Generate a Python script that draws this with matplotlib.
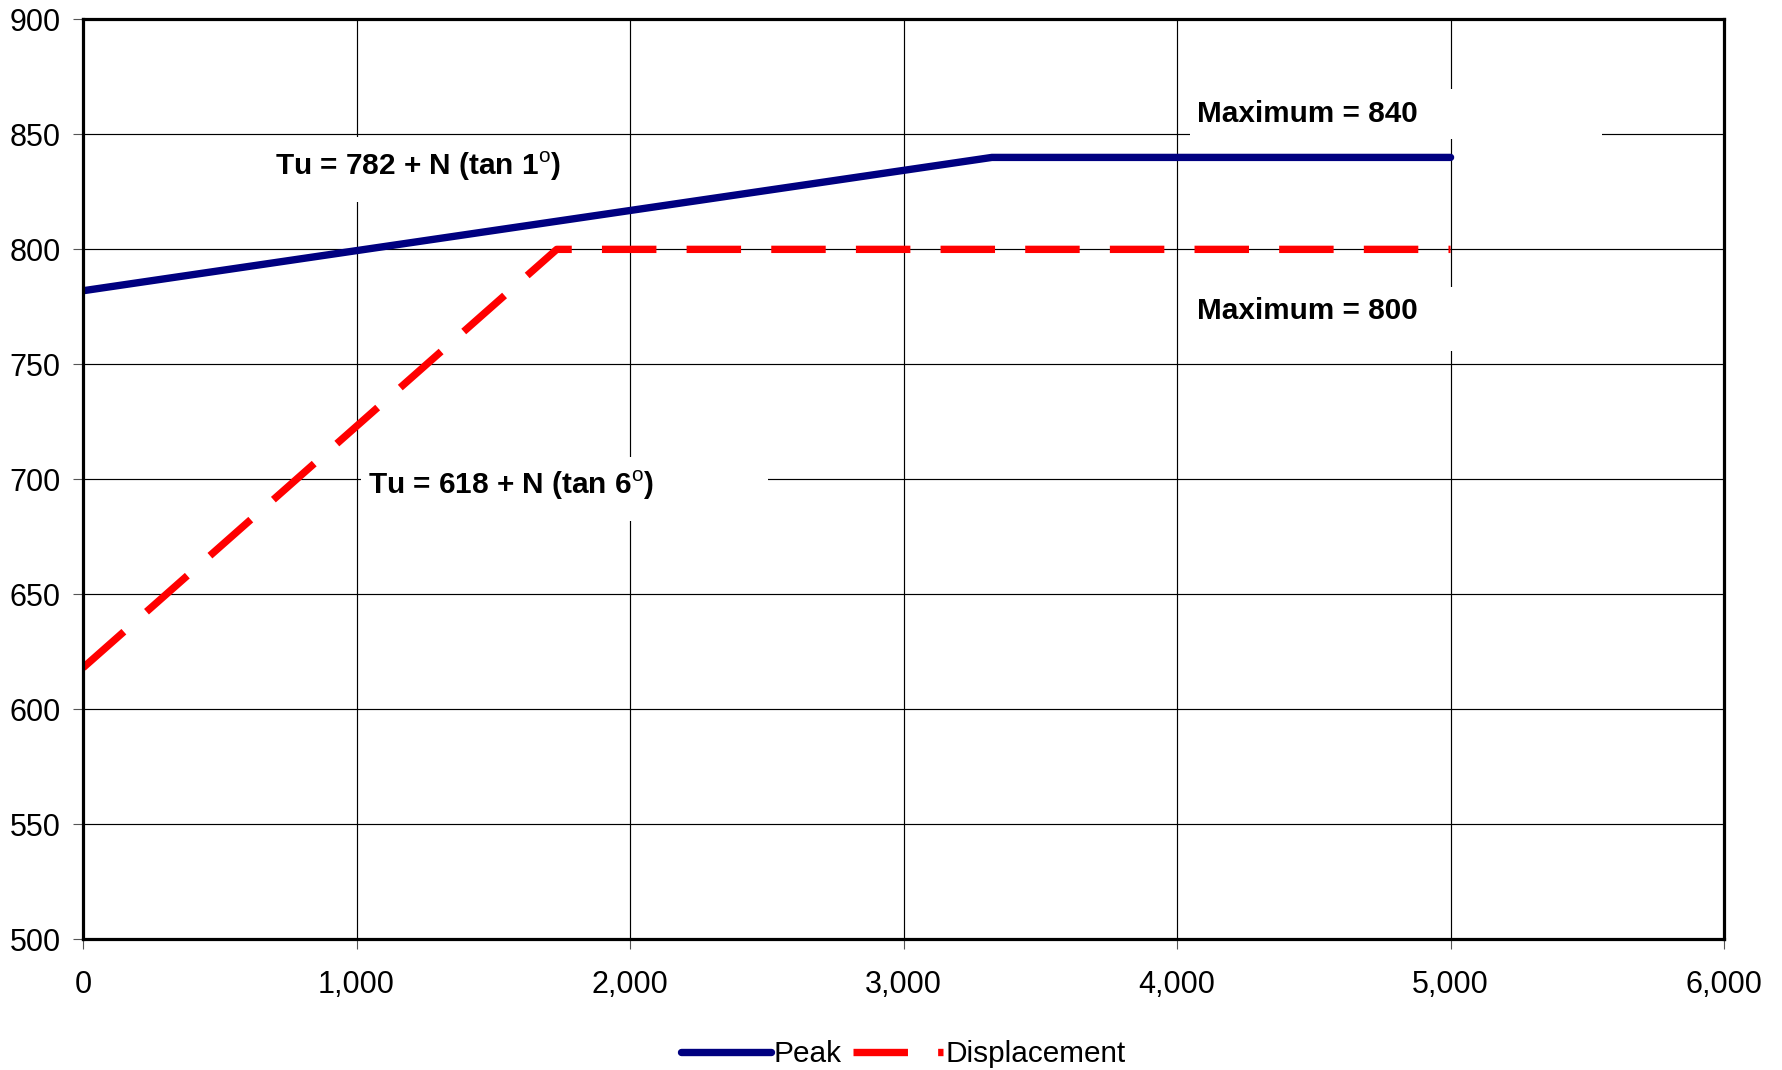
import matplotlib
matplotlib.use('Agg')
import matplotlib.pyplot as plt
import matplotlib.patches as mpatches
from matplotlib.ticker import FuncFormatter, MultipleLocator

plt.rcParams['font.family'] = ['Liberation Sans', 'DejaVu Sans']
plt.rcParams['mathtext.fontset'] = 'custom'
plt.rcParams['mathtext.rm'] = 'Liberation Sans'
plt.rcParams['mathtext.bf'] = 'Liberation Sans:bold'

# ── data ────────────────────────────────────────────────────────────────────
peak_x = [0, 3323, 5000]
peak_y = [782, 840, 840]
disp_x = [0, 1732, 5000]
disp_y = [618, 800, 800]

labels = ['Tu = 782 + N (tan 1$^{\\mathrm{o}}$)',
          'Tu = 618 + N (tan 6$^{\\mathrm{o}}$)',
          'Maximum = 840',
          'Maximum = 800']
label_pos = [(702, 832.4), (1042, 693.7), (4073, 855.6), (4073, 769.8)]
# white text boxes (x0, x1, y0, y1) that mask the gridlines
label_box = [(676, 1963, 820.7, 848.9), (1016, 2505, 682.0, 709.8),
             (4048, 5554, 848.0, 869.8), (4048, 5554, 755.9, 783.7)]

# ── figure ──────────────────────────────────────────────────────────────────
fig = plt.figure(figsize=(17.82, 10.70), dpi=100)
fig.patch.set_facecolor('white')
ax = fig.add_axes([0.0466, 0.1224, 0.9209, 0.8594])

ax.set_xlim(0, 6000)
ax.set_ylim(500, 900)
ax.xaxis.set_major_locator(MultipleLocator(1000))
ax.yaxis.set_major_locator(MultipleLocator(50))
ax.xaxis.set_major_formatter(FuncFormatter(lambda v, p: f'{int(v):,}'))

ax.set_axisbelow(True)
ax.grid(True, color='black', linewidth=0.85, zorder=0)
for s in ax.spines.values():
    s.set_linewidth(2.3)
    s.set_zorder(5)
ax.tick_params(axis='both', direction='out', length=7, width=0.8,
               color='#555555', labelsize=22)
ax.tick_params(axis='x', pad=15)
ax.tick_params(axis='y', pad=9)

for (x0, x1, y0, y1) in label_box:
    ax.add_patch(mpatches.Rectangle((x0, y0), x1 - x0, y1 - y0,
                                    facecolor='white', edgecolor='none',
                                    zorder=1))
for txt, (x, y) in zip(labels, label_pos):
    ax.text(x, y, txt, ha='left', va='baseline', fontsize=21.4,
            fontweight='bold', zorder=2)

ax.plot(peak_x, peak_y, color='#000080', linewidth=5.3,
        solid_capstyle='round', label='Peak', zorder=3)
ax.plot(disp_x, disp_y, color='#FF0000', linewidth=5.3,
        dashes=(7.4, 4.1), dash_capstyle='butt', label='Displacement',
        zorder=3)

ax.legend(loc='center', bbox_to_anchor=(0.5, -0.125), ncol=2,
          frameon=False, fontsize=21.4, handlelength=3.0,
          handletextpad=0.1, columnspacing=0.4)

plt.savefig('out.png', dpi=100, facecolor='white')
